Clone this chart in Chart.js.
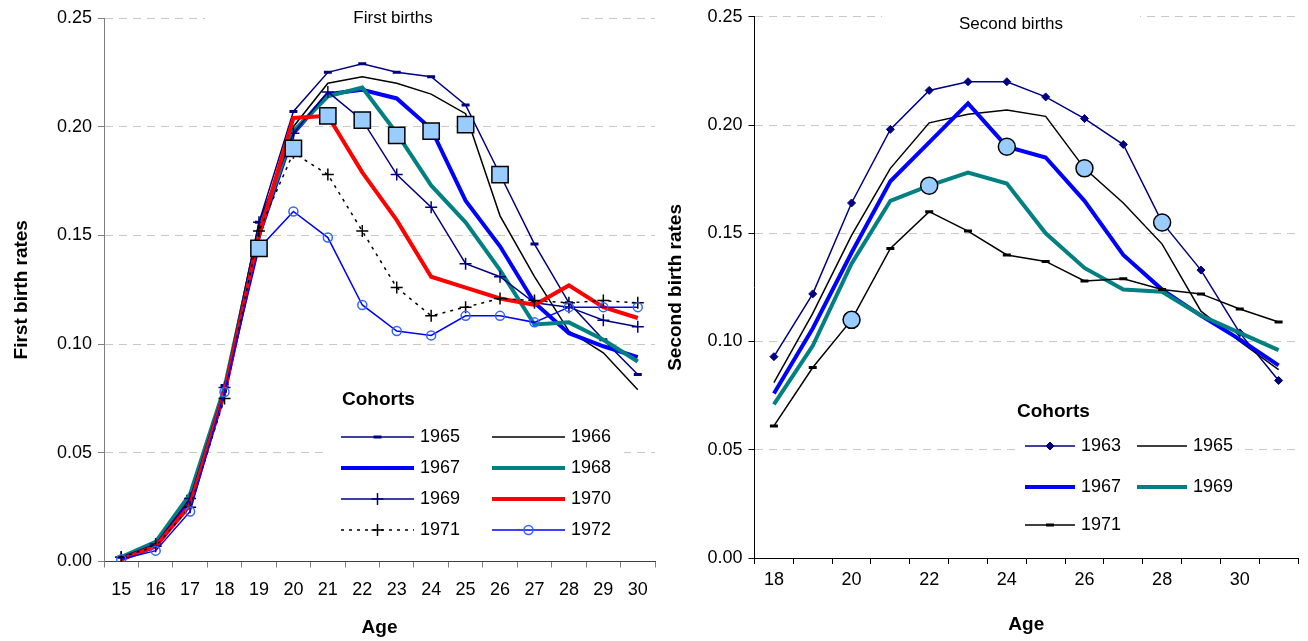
<!DOCTYPE html>
<html>
<head>
<meta charset="utf-8">
<script src="https://cdn.jsdelivr.net/npm/chart.js@4.4.1/dist/chart.umd.min.js"></script>
<style>
  html, body { margin: 0; padding: 0; background: #fff; }
  #wrap { position: relative; width: 1308px; height: 641px; overflow: hidden; }
  canvas { position: absolute; top: 0; }
  #firstChart { left: 0; }
  #secondChart { left: 650px; }
</style>
</head>
<body>
<div id="wrap">
  <canvas id="firstChart" width="668" height="641"></canvas>
  <canvas id="secondChart" width="658" height="641"></canvas>
</div>
<script>
// ---- data: first births (ages 15-30) ----
const agesFirst = [15, 16, 17, 18, 19, 20, 21, 22, 23, 24, 25, 26, 27, 28, 29, 30];
const first1965 = [0.002, 0.008, 0.030, 0.081, 0.156, 0.207, 0.225, 0.229, 0.225, 0.223, 0.210, 0.178, 0.146, 0.119, 0.102, 0.086];
const first1966 = [0.002, 0.008, 0.029, 0.079, 0.148, 0.200, 0.220, 0.223, 0.220, 0.215, 0.206, 0.159, 0.131, 0.106, 0.096, 0.079];
const first1967 = [0.001, 0.007, 0.027, 0.078, 0.150, 0.197, 0.215, 0.217, 0.213, 0.199, 0.166, 0.145, 0.119, 0.105, 0.099, 0.094];
const first1968 = [0.002, 0.009, 0.031, 0.080, 0.152, 0.198, 0.214, 0.218, 0.197, 0.173, 0.156, 0.134, 0.109, 0.110, 0.102, 0.092];
const first1969 = [0.002, 0.008, 0.029, 0.080, 0.156, 0.197, 0.216, 0.203, 0.178, 0.163, 0.137, 0.131, 0.119, 0.117, 0.111, 0.108];
const first1970 = [0.001, 0.007, 0.026, 0.078, 0.150, 0.204, 0.205, 0.179, 0.157, 0.131, 0.126, 0.121, 0.118, 0.127, 0.117, 0.112];
const first1971 = [0.002, 0.007, 0.025, 0.075, 0.152, 0.188, 0.178, 0.152, 0.126, 0.113, 0.117, 0.121, 0.120, 0.119, 0.120, 0.119];
const first1972 = [0.001, 0.005, 0.023, 0.078, 0.144, 0.161, 0.149, 0.118, 0.106, 0.104, 0.113, 0.113, 0.110, 0.117, 0.117, 0.117];
const firstPeriod = [null, null, null, null, 0.144, 0.190, 0.205, 0.203, 0.196, 0.198, 0.201, 0.178, null, null, null, null];

// ---- data: second births (ages 18-31) ----
const agesSecond = [18, 19, 20, 21, 22, 23, 24, 25, 26, 27, 28, 29, 30, 31];
const second1963 = [0.093, 0.122, 0.164, 0.198, 0.216, 0.220, 0.220, 0.213, 0.203, 0.191, 0.155, 0.133, 0.104, 0.082];
const second1965 = [0.081, 0.113, 0.149, 0.180, 0.201, 0.205, 0.207, 0.204, 0.180, 0.164, 0.145, 0.114, 0.100, 0.087];
const second1967 = [0.076, 0.106, 0.141, 0.174, 0.192, 0.210, 0.190, 0.185, 0.165, 0.140, 0.124, 0.112, 0.101, 0.089];
const second1969 = [0.071, 0.098, 0.136, 0.165, 0.172, 0.178, 0.173, 0.150, 0.134, 0.124, 0.123, 0.112, 0.104, 0.096];
const second1971 = [0.061, 0.088, 0.110, 0.143, 0.160, 0.151, 0.140, 0.137, 0.128, 0.129, 0.124, 0.122, 0.115, 0.109];
const secondPeriod = [null, null, 0.110, null, 0.172, null, 0.190, null, 0.180, null, 0.155, null, null, null];

const FONT = '"Liberation Sans", Arial, Helvetica, sans-serif';
Chart.defaults.font.family = FONT;
Chart.defaults.color = '#000';

const NAVY = '#000080', TEAL = '#008080', BLUE = '#0000FF', RED = '#FF0000';

// line styles per cohort
const thin = {borderWidth: 1.5, pointRadius: 0};
const thick = {borderWidth: 4, pointRadius: 0};
const styles = {
  '1963': Object.assign({}, thin, {borderColor: NAVY, pointStyle: 'rectRot', pointRadius: 4, pointBackgroundColor: NAVY, pointBorderColor: NAVY, pointBorderWidth: 1}),
  '1965': Object.assign({}, thin, {borderColor: '#000'}),
  '1965a': Object.assign({}, thin, {borderColor: NAVY, pointStyle: 'line', pointRadius: 4, pointBorderColor: NAVY, pointBackgroundColor: NAVY, pointBorderWidth: 3}),
  '1966': Object.assign({}, thin, {borderColor: '#000'}),
  '1967': Object.assign({}, thick, {borderColor: BLUE}),
  '1968': Object.assign({}, thick, {borderColor: TEAL}),
  '1969': Object.assign({}, thick, {borderColor: TEAL}),
  '1969a': Object.assign({}, thin, {borderColor: NAVY, pointStyle: 'cross', pointRadius: 6, pointBorderColor: NAVY, pointBorderWidth: 1.5}),
  '1970': Object.assign({}, thick, {borderColor: RED}),
  '1971': Object.assign({}, thin, {borderColor: '#000', pointStyle: 'line', pointRadius: 4, pointBorderColor: '#000', pointBackgroundColor: '#000', pointBorderWidth: 3}),
  '1971a': Object.assign({}, thin, {borderColor: '#000', borderDash: [3, 5], pointStyle: 'cross', pointRadius: 6, pointBorderColor: '#000', pointBorderWidth: 1.5}),
  '1972': Object.assign({}, thin, {borderColor: BLUE, pointStyle: 'circle', pointRadius: 4.5, pointBorderColor: '#3366FF', pointBackgroundColor: 'rgba(255,255,255,0)', pointBorderWidth: 1.5})
};

function cohort(label, data, styleKey, i) {
  return Object.assign({label: label, data: data, order: 20 - i, tension: 0, fill: false, pointHoverRadius: 0}, styles[styleKey]);
}

// white boxes + in-chart title (drawn under the lines)
const panelDecor = {
  id: 'panelDecor',
  beforeDatasetsDraw(chart, args, o) {
    const ctx = chart.ctx;
    ctx.save();
    ctx.fillStyle = '#fff';
    o.blank.forEach(r => ctx.fillRect(r[0], r[1], r[2], r[3]));
    ctx.fillStyle = '#000';
    ctx.font = '17px ' + FONT;
    ctx.textAlign = 'center';
    ctx.textBaseline = 'middle';
    ctx.fillText(o.title, o.titleX, o.titleY);
    ctx.restore();
  }
};

// legend drawn inside the plot, two columns
const cohortLegend = {
  id: 'cohortLegend',
  afterDraw(chart, args, o) {
    const ctx = chart.ctx;
    ctx.save();
    ctx.fillStyle = '#000';
    ctx.textAlign = 'left';
    ctx.textBaseline = 'middle';
    ctx.font = 'bold 19px ' + FONT;
    ctx.fillText('Cohorts', o.x, o.y);
    ctx.font = '18px ' + FONT;
    let k = 0;
    chart.data.datasets.forEach(ds => {
      if (ds.period) return;
      const x0 = o.cols[k % 2];
      const y = o.rows[Math.floor(k / 2)];
      ctx.save();
      ctx.strokeStyle = ds.borderColor;
      ctx.lineWidth = ds.borderWidth;
      ctx.setLineDash(ds.borderDash || []);
      ctx.beginPath();
      ctx.moveTo(x0, y);
      ctx.lineTo(x0 + o.len, y);
      ctx.stroke();
      if (ds.pointRadius > 0 && Chart.helpers && Chart.helpers.drawPoint) {
        ctx.setLineDash([]);
        ctx.lineWidth = ds.pointBorderWidth;
        ctx.strokeStyle = ds.pointBorderColor;
        ctx.fillStyle = ds.pointBackgroundColor || ds.pointBorderColor;
        Chart.helpers.drawPoint(ctx, {pointStyle: ds.pointStyle, radius: ds.pointRadius, borderWidth: ds.pointBorderWidth, rotation: 0}, x0 + o.len / 2, y);
      }
      ctx.restore();
      ctx.fillStyle = '#000';
      ctx.fillText(ds.label, x0 + o.len + 6, y);
      k++;
    });
    ctx.restore();
  }
};

function scalesFor(o) {
  return {
    x: {
      type: 'category',
      offset: true,
      grid: {offset: true, drawOnChartArea: false, drawTicks: true, tickLength: 6, color: o.tickColor, tickColor: o.tickColor},
      border: {color: o.xAxisColor, width: 1},
      ticks: {autoSkip: false, maxRotation: 0, minRotation: 0, padding: o.xPad, color: '#000', font: {size: 18}, callback: o.xLabel},
      title: {display: true, text: 'Age', color: '#000', font: {size: 19, weight: 'bold'}, padding: {top: 0, bottom: o.agePad}},
      afterFit: a => { a.height = o.xHeight; }
    },
    y: {
      min: 0,
      max: 0.25,
      ticks: {stepSize: 0.05, padding: 6, color: '#000', font: {size: 18}, callback: v => v.toFixed(2)},
      grid: {color: '#c8c8c8', lineWidth: 1, tickLength: 6, tickColor: o.tickColor, tickBorderDash: []},
      border: {color: o.yAxisColor, width: 1, dash: [8, 6]},
      title: {display: true, text: o.yTitle, color: '#000', font: {size: 19, weight: 'bold'}, padding: {top: o.yTitlePad, bottom: 0}},
      afterFit: a => { a.width = o.yWidth; }
    }
  };
}

// ---- first births ----
const firstSets = [
  cohort('1965', first1965, '1965a', 0),
  cohort('1966', first1966, '1966', 1),
  cohort('1967', first1967, '1967', 2),
  cohort('1968', first1968, '1968', 3),
  cohort('1969', first1969, '1969a', 4),
  cohort('1970', first1970, '1970', 5),
  cohort('1971', first1971, '1971a', 6),
  cohort('1972', first1972, '1972', 7),
  {label: 'period', period: true, data: firstPeriod, showLine: false, order: 0,
   pointStyle: 'rect', pointRadius: 11.5, pointBackgroundColor: '#99CCFF', pointBorderColor: '#000', pointBorderWidth: 1.5, pointHoverRadius: 0}
];

new Chart(document.getElementById('firstChart').getContext('2d'), {
  type: 'line',
  data: {labels: agesFirst, datasets: firstSets},
  options: {
    responsive: false,
    animation: false,
    events: [],
    layout: {padding: {left: 0, top: 18, right: 0, bottom: 0}},
    plugins: {
      legend: {display: false},
      tooltip: {enabled: false},
      panelDecor: {title: 'First births', titleX: 393, titleY: 18, blank: [[205, 8, 373, 20], [328, 383, 296, 160]]},
      cohortLegend: {x: 342, y: 400, cols: [341, 492], rows: [437, 468, 499, 530], len: 73}
    },
    scales: scalesFor({tickColor: '#808080', xAxisColor: '#404040', yAxisColor: '#808080', xPad: 12, agePad: 2,
      xHeight: 79.5, yWidth: 104, yTitle: 'First birth rates', yTitlePad: 10,
      xLabel: (v, i) => String(agesFirst[i])})
  },
  plugins: [panelDecor, cohortLegend]
});

// ---- second births ----
const secondSets = [
  cohort('1963', second1963, '1963', 0),
  cohort('1965', second1965, '1965', 1),
  cohort('1967', second1967, '1967', 2),
  cohort('1969', second1969, '1969', 3),
  cohort('1971', second1971, '1971', 4),
  {label: 'period', period: true, data: secondPeriod, showLine: false, order: 0,
   pointStyle: 'circle', pointRadius: 8.5, pointBackgroundColor: '#99CCFF', pointBorderColor: '#000', pointBorderWidth: 1.5, pointHoverRadius: 0}
];

new Chart(document.getElementById('secondChart').getContext('2d'), {
  type: 'line',
  data: {labels: agesSecond, datasets: secondSets},
  options: {
    responsive: false,
    animation: false,
    events: [],
    layout: {padding: {left: 0, top: 16, right: 9, bottom: 0}},
    plugins: {
      legend: {display: false},
      tooltip: {enabled: false},
      panelDecor: {title: 'Second births', titleX: 361, titleY: 24, blank: [[232, 8, 258, 28], [367, 395, 221, 145]]},
      cohortLegend: {x: 367, y: 412, cols: [375, 487], rows: [446, 487, 525], len: 50}
    },
    scales: scalesFor({tickColor: '#000', xAxisColor: '#000', yAxisColor: '#000', xPad: 5, agePad: 5,
      xHeight: 83, yWidth: 104.5, yTitle: 'Second birth rates', yTitlePad: 14,
      xLabel: (v, i) => (i % 2 === 0 ? String(agesSecond[i]) : '')})
  },
  plugins: [panelDecor, cohortLegend]
});
</script>
</body>
</html>
